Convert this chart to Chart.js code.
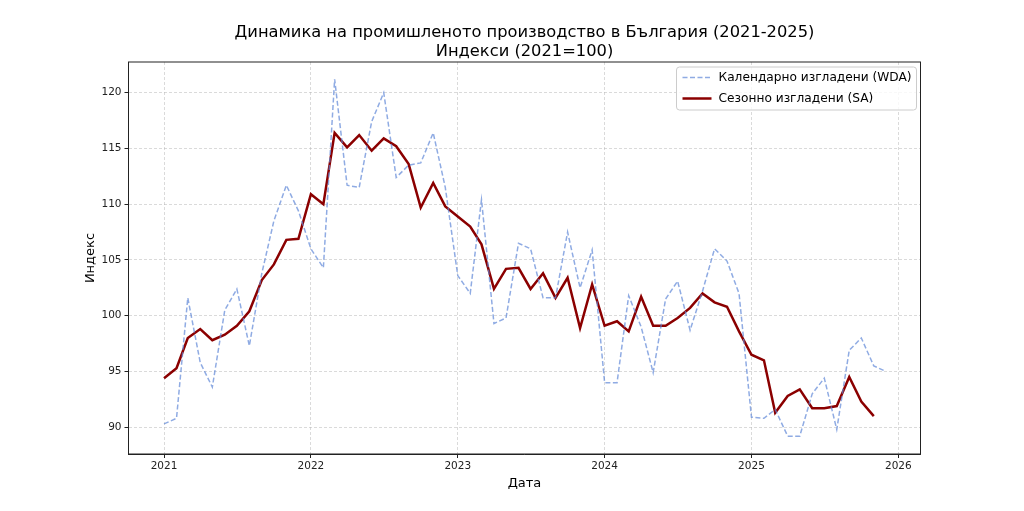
<!DOCTYPE html>
<html>
<head>
<meta charset="utf-8">
<script src="https://cdn.jsdelivr.net/npm/chart.js@4.4.1/dist/chart.umd.min.js"></script>
<style>
  html, body { margin: 0; padding: 0; background: #fff; }
  #wrap { width: 1024px; height: 511px; }
</style>
</head>
<body>
<div id="wrap"><canvas id="prodChart" width="1024" height="511"></canvas></div>
<script>
// Monthly observations, Jan 2021 - Dec 2025
const months = [
  '2021-01','2021-02','2021-03','2021-04','2021-05','2021-06','2021-07','2021-08','2021-09','2021-10','2021-11','2021-12',
  '2022-01','2022-02','2022-03','2022-04','2022-05','2022-06','2022-07','2022-08','2022-09','2022-10','2022-11','2022-12',
  '2023-01','2023-02','2023-03','2023-04','2023-05','2023-06','2023-07','2023-08','2023-09','2023-10','2023-11','2023-12',
  '2024-01','2024-02','2024-03','2024-04','2024-05','2024-06','2024-07','2024-08','2024-09','2024-10','2024-11','2024-12',
  '2025-01','2025-02','2025-03','2025-04','2025-05','2025-06','2025-07','2025-08','2025-09','2025-10','2025-11','2025-12'
];

// Calendar adjusted (WDA)
const wdaValues = [
  90.3, 90.8, 101.6, 95.8, 93.6, 100.5, 102.4, 97.3, 103.8, 108.5, 111.7, 109.4,
  106.0, 104.3, 121.2, 111.7, 111.5, 117.4, 120.0, 112.4, 113.5, 113.7, 116.4, 111.5,
  103.6, 102.0, 110.4, 99.3, 99.8, 106.5, 106.0, 101.6, 101.6, 107.5, 102.5, 105.9,
  94.0, 94.0, 101.8, 99.0, 94.9, 101.5, 103.1, 98.7, 102.2, 106.0, 104.9, 102.0,
  90.9, 90.8, 91.6, 89.2, 89.2, 93.0, 94.4, 89.8, 96.9, 98.0, 95.5, 95.0
];

// Seasonally adjusted (SA) - last value Nov 2025
const saValues = [
  94.4, 95.3, 98.0, 98.8, 97.8, 98.3, 99.1, 100.4, 103.2, 104.6, 106.8, 106.9,
  110.9, 110.0, 116.4, 115.1, 116.2, 114.8, 115.9, 115.2, 113.6, 109.7, 111.9, 109.8,
  108.9, 108.0, 106.4, 102.4, 104.2, 104.3, 102.4, 103.8, 101.6, 103.4, 98.9, 102.8,
  99.1, 99.5, 98.6, 101.7, 99.1, 99.1, 99.8, 100.7, 102.0, 101.2, 100.8, 98.6,
  96.5, 96.0, 91.3, 92.8, 93.4, 91.7, 91.7, 91.9, 94.5, 92.3, 91.0
];

const xTicks = [2021, 2022, 2023, 2024, 2025, 2026];
const yTicks = [90, 95, 100, 105, 110, 115, 120];

const titleLines = ['Динамика на промишленото производство в България (2021-2025)', 'Индекси (2021=100)'];

// month string -> fractional year, so the date axis lines up with the year ticks
function toYear(m) {
    const y = parseInt(m.slice(0, 4), 10);
    const mo = parseInt(m.slice(5, 7), 10) - 1;
    const start = Date.UTC(y, 0, 1);
    const end = Date.UTC(y + 1, 0, 1);
    return y + (Date.UTC(y, mo, 1) - start) / (end - start);
}

function toPoints(values) {
    return values.map((v, i) => ({ x: toYear(months[i]), y: v }));
}

const FONT = "'DejaVu Sans', sans-serif";
const gridColor = 'rgba(176, 176, 176, 0.6)';

// Two-line title centred on the plot area
const titlePlugin = {
    id: 'twoLineTitle',
    afterDraw(chart) {
        const ctx = chart.ctx;
        const area = chart.chartArea;
        const cx = (area.left + area.right) / 2;
        ctx.save();
        ctx.fillStyle = '#000';
        ctx.font = '16.3px ' + FONT;
        ctx.textAlign = 'center';
        ctx.textBaseline = 'middle';
        ctx.fillText(titleLines[0], cx, 33);
        ctx.fillText(titleLines[1], cx, 52);
        ctx.restore();
    }
};

// Full box around the axes
const framePlugin = {
    id: 'frame',
    afterDatasetsDraw(chart) {
        const ctx = chart.ctx;
        const a = chart.chartArea;
        ctx.save();
        ctx.strokeStyle = '#222';
        ctx.lineWidth = 1;
        ctx.strokeRect(a.left, a.top, a.right - a.left, a.bottom - a.top);
        ctx.restore();
    }
};

// Boxed legend in the upper right corner
const legendPlugin = {
    id: 'boxLegend',
    afterDraw(chart) {
        const ctx = chart.ctx;
        const a = chart.chartArea;
        const w = 240, h = 43;
        const x = a.right - 4 - w, y = a.top + 5;
        ctx.save();
        ctx.beginPath();
        ctx.roundRect(x, y, w, h, 3);
        ctx.fillStyle = 'rgba(255,255,255,0.8)';
        ctx.fill();
        ctx.strokeStyle = '#cccccc';
        ctx.lineWidth = 1;
        ctx.stroke();

        ctx.font = '12.2px ' + FONT;
        ctx.textBaseline = 'middle';
        ctx.fillStyle = '#000';
        chart.data.datasets.forEach((ds, i) => {
            const ly = y + 10.5 + i * 21;
            ctx.beginPath();
            ctx.setLineDash(ds.borderDash || []);
            ctx.strokeStyle = ds.borderColor;
            ctx.lineWidth = ds.borderWidth;
            ctx.moveTo(x + 6, ly);
            ctx.lineTo(x + 35, ly);
            ctx.stroke();
            ctx.setLineDash([]);
            ctx.fillText(ds.label, x + 42, ly);
        });
        ctx.restore();
    }
};

new Chart(document.getElementById('prodChart'), {
    type: 'line',
    data: {
        datasets: [{
            label: 'Календарно изгладени (WDA)',
            data: toPoints(wdaValues),
            borderColor: 'rgba(95, 135, 215, 0.7)',
            borderWidth: 1.5,
            borderDash: [5, 2.5],
            pointRadius: 0,
            tension: 0,
            fill: false
        }, {
            label: 'Сезонно изгладени (SA)',
            data: toPoints(saValues),
            borderColor: '#8b0000',
            borderWidth: 2.5,
            pointRadius: 0,
            tension: 0,
            fill: false
        }]
    },
    options: {
        responsive: false,
        devicePixelRatio: 1,
        animation: false,
        layout: {
            padding: { top: 62, right: 103.5, bottom: 0, left: 0 }
        },
        plugins: {
            legend: { display: false },
            title: { display: false },
            tooltip: { enabled: false }
        },
        scales: {
            x: {
                type: 'linear',
                min: 2020.758,
                max: 2026.151,
                afterBuildTicks: function(scale) {
                    scale.ticks = xTicks.map(v => ({ value: v }));
                },
                afterFit: function(scale) {
                    scale.height = 57;
                },
                ticks: {
                    autoSkip: false,
                    maxRotation: 0,
                    padding: 2,
                    color: '#222',
                    font: { family: FONT, size: 10.5 },
                    callback: function(value) {
                        return String(value);
                    }
                },
                grid: {
                    color: gridColor,
                    lineWidth: 0.8,
                    tickColor: '#222',
                    tickLength: 4,
                    tickWidth: 1,
                    tickBorderDash: []
                },
                border: { display: true, color: '#222', width: 1, dash: [3, 2] },
                title: {
                    display: true,
                    text: 'Дата',
                    color: '#000',
                    font: { family: FONT, size: 13 },
                    padding: { top: 0, bottom: 20 }
                }
            },
            y: {
                type: 'linear',
                min: 87.6,
                max: 122.75,
                afterBuildTicks: function(scale) {
                    scale.ticks = yTicks.map(v => ({ value: v }));
                },
                afterFit: function(scale) {
                    scale.width = 128.5;
                },
                ticks: {
                    padding: 3,
                    color: '#222',
                    font: { family: FONT, size: 10.5 },
                    callback: function(value) {
                        return String(value);
                    }
                },
                grid: {
                    color: gridColor,
                    lineWidth: 0.8,
                    tickColor: '#222',
                    tickLength: 4,
                    tickWidth: 1,
                    tickBorderDash: []
                },
                border: { display: true, color: '#222', width: 1, dash: [3, 2] },
                title: {
                    display: true,
                    text: 'Индекс',
                    color: '#000',
                    font: { family: FONT, size: 13 },
                    padding: { top: 83, bottom: 0 }
                }
            }
        }
    },
    plugins: [titlePlugin, framePlugin, legendPlugin]
});
</script>
</body>
</html>
